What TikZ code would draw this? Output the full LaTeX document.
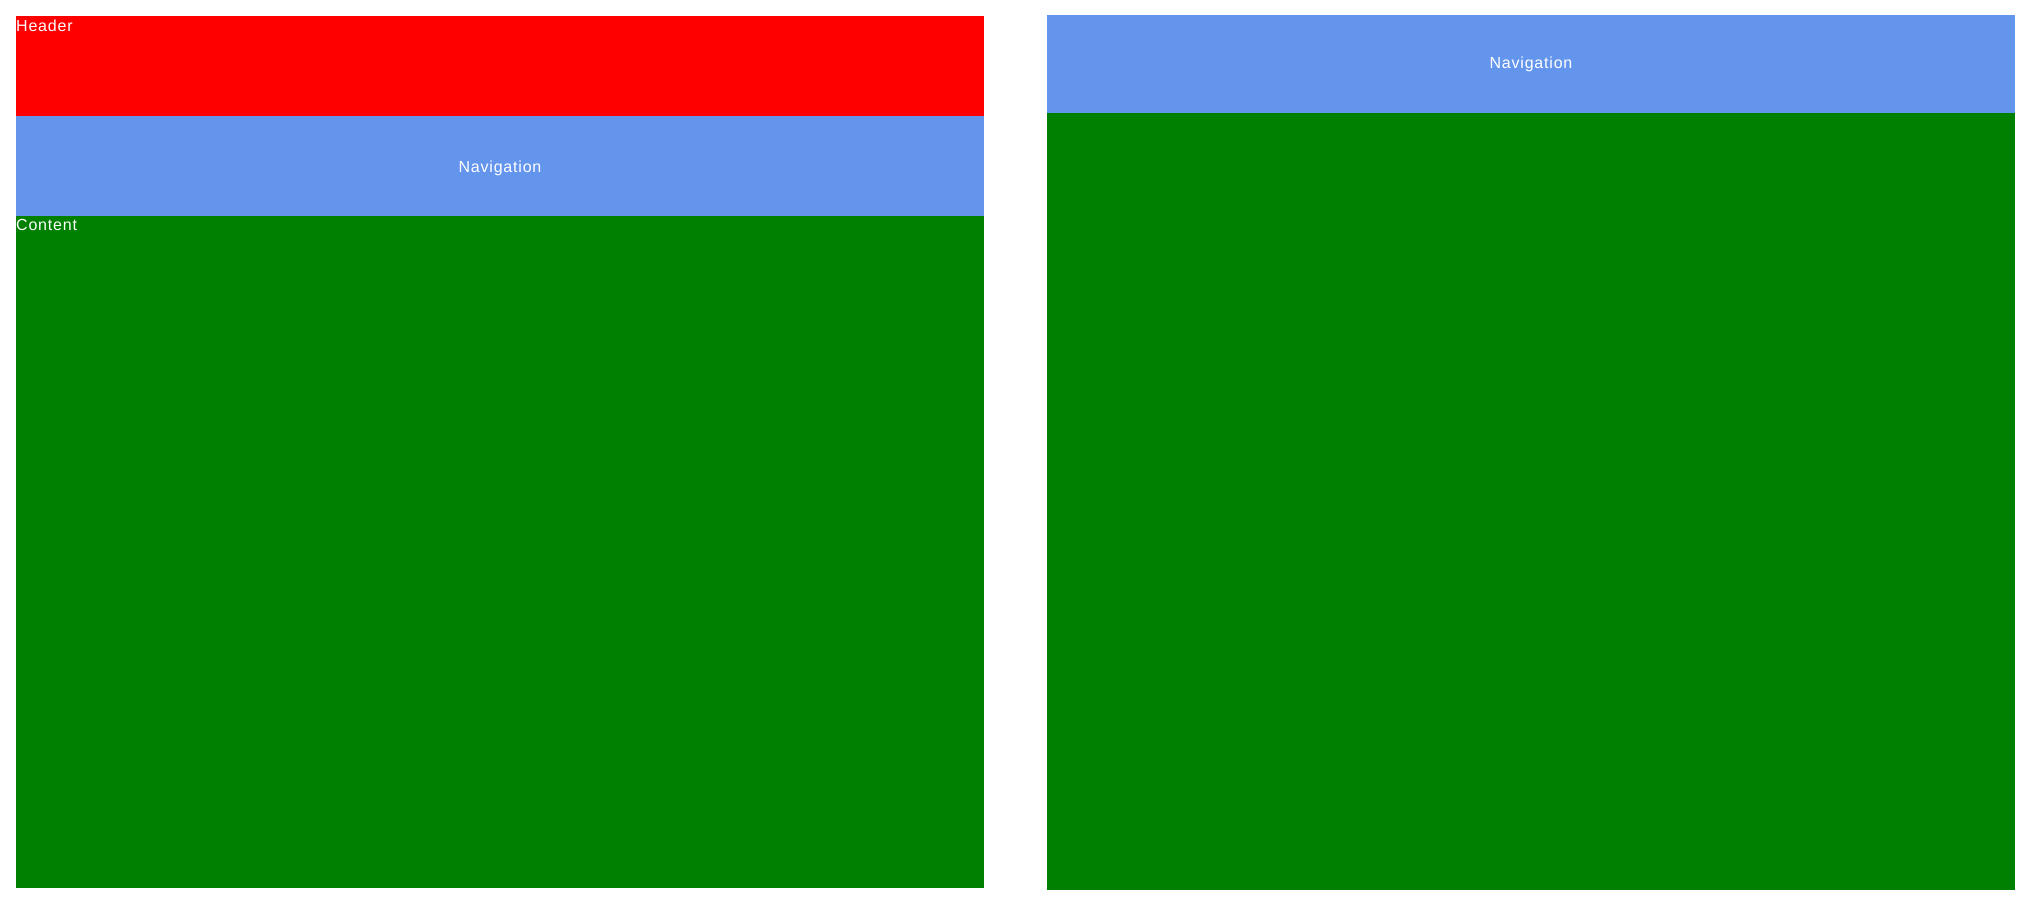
\documentclass[tikz,border=0pt]{standalone}
\usepackage{fontspec}
\setmainfont{Liberation Sans}[LetterSpace=5]
\definecolor{hdr}{RGB}{255,0,0}
\definecolor{navc}{RGB}{100,149,237}
\definecolor{cont}{RGB}{0,128,0}
\begin{document}
\begin{tikzpicture}[x=1pt,y=-1pt,
  panel/.style={draw=none,inner sep=0pt,outer sep=0pt,anchor=north west,minimum width=968pt},
  lbl/.style={text=white,font=\fontsize{16}{18}\selectfont,inner sep=0pt}]
\useasboundingbox (0,0) rectangle (2029,905);
% left panel
\node[panel,fill=hdr,minimum height=100pt] (header) at (16,16) {};
\node[panel,fill=navc,minimum height=100pt] (nav1) at (16,116) {};
\node[panel,fill=cont,minimum height=672pt] (content) at (16,216) {};
\node[lbl,anchor=north west] (htxt) at (16,19.5) {Header};
\node[lbl] (ntxt1) at ([yshift=-2pt]nav1.center) {Navigation};
\node[lbl,anchor=north west] (ctxt) at (16,219) {Content};
% right panel
\node[panel,fill=navc,minimum height=98pt] (nav2) at (1047,15) {};
\node[panel,fill=cont,minimum height=777pt] (main2) at (1047,113) {};
\node[lbl] (ntxt2) at (nav2.center) {Navigation};
\end{tikzpicture}
\end{document}
